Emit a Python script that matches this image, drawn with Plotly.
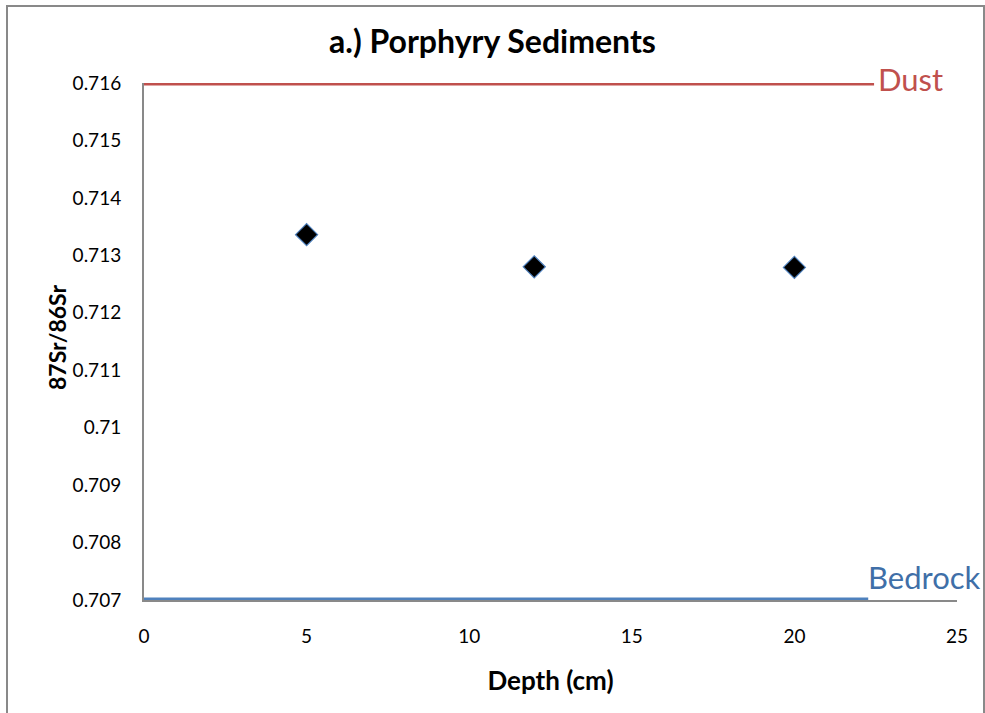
import plotly.graph_objects as go

depth_cm = [5, 12, 20]
sr_ratio = [0.71336, 0.71280, 0.71279]

dust_x = [0, 22.45]
dust_y = [0.716, 0.716]
bedrock_x = [0, 22.27]
bedrock_y = [0.707, 0.707]

x_ticks = [0, 5, 10, 15, 20, 25]
y_ticks = [0.707, 0.708, 0.709, 0.710, 0.711, 0.712, 0.713, 0.714, 0.715, 0.716]
y_tick_labels = ["0.707", "0.708", "0.709", "0.71", "0.711", "0.712", "0.713", "0.714", "0.715", "0.716"]
y_title = "87Sr/86Sr"

FONT = "Lato, Carlito, Calibri, sans-serif"
RED = "#C0504D"
BLUE = "#4F81BD"

fig = go.Figure()
fig.add_trace(go.Scatter(x=dust_x, y=dust_y, mode="lines",
                         line=dict(color=RED, width=5), showlegend=False, hoverinfo="skip"))
fig.add_trace(go.Scatter(x=bedrock_x, y=bedrock_y, mode="lines",
                         line=dict(color=BLUE, width=5), showlegend=False, hoverinfo="skip"))
fig.add_trace(go.Scatter(x=depth_cm, y=sr_ratio, mode="markers",
                         marker=dict(symbol="diamond", size=17, color="black",
                                     line=dict(color=BLUE, width=1.2)),
                         showlegend=False))

fig.update_layout(
    width=985, height=713,
    margin=dict(l=144, r=28, t=83, b=113),
    paper_bgcolor="white", plot_bgcolor="white",
    font=dict(family=FONT, color="black", size=19),
    title=dict(text="<b>a.) Porphyry Sediments</b>", x=0.5, xanchor="center",
               y=1 - 42 / 713, yanchor="middle", font=dict(size=32, family=FONT)),
    xaxis=dict(range=[0, 25], tickvals=x_ticks, showgrid=False, zeroline=False,
               showline=True, linecolor="#898989", linewidth=2, layer="below traces",
               ticks="outside", ticklen=18, tickcolor="rgba(0,0,0,0)",
               tickfont=dict(size=19),
               title=dict(text="<b>Depth (cm)</b>", font=dict(size=26), standoff=26)),
    yaxis=dict(range=[0.707, 0.716], tickvals=y_ticks, ticktext=y_tick_labels,
               showgrid=False, zeroline=False,
               showline=True, linecolor="#898989", linewidth=2, layer="below traces",
               ticks="outside", ticklen=17, tickcolor="rgba(0,0,0,0)",
               tickfont=dict(size=19)),
)

fig.add_annotation(text="<b>" + y_title + "</b>", xref="paper", yref="paper",
                   x=(57 - 144) / 813, y=(600 - 338) / 517, textangle=-90,
                   showarrow=False, font=dict(size=23, family=FONT),
                   xanchor="center", yanchor="middle")

fig.add_annotation(text="Dust", x=dust_x[1], y=dust_y[1], xref="x", yref="y",
                   xanchor="left", yanchor="middle", yshift=4, xshift=2, showarrow=False,
                   font=dict(size=31, color=RED, family=FONT))
fig.add_annotation(text="Bedrock", x=bedrock_x[1], y=bedrock_y[1], xref="x", yref="y",
                   xanchor="left", yanchor="middle", yshift=23, xshift=-2, showarrow=False,
                   font=dict(size=31, color="#3F6FA8", family=FONT))

# outer chart border
fig.add_shape(type="rect", xref="paper", yref="paper",
              x0=(7 - 144) / 813, x1=(984 - 144) / 813,
              y0=(600 - 720) / 517, y1=(600 - 6) / 517,
              line=dict(color="#898989", width=2), fillcolor="rgba(0,0,0,0)", layer="below")

fig.write_html("out.html", config={"displayModeBar": False},
               post_script="document.body.style.margin='0px';document.body.style.overflow='hidden';")
